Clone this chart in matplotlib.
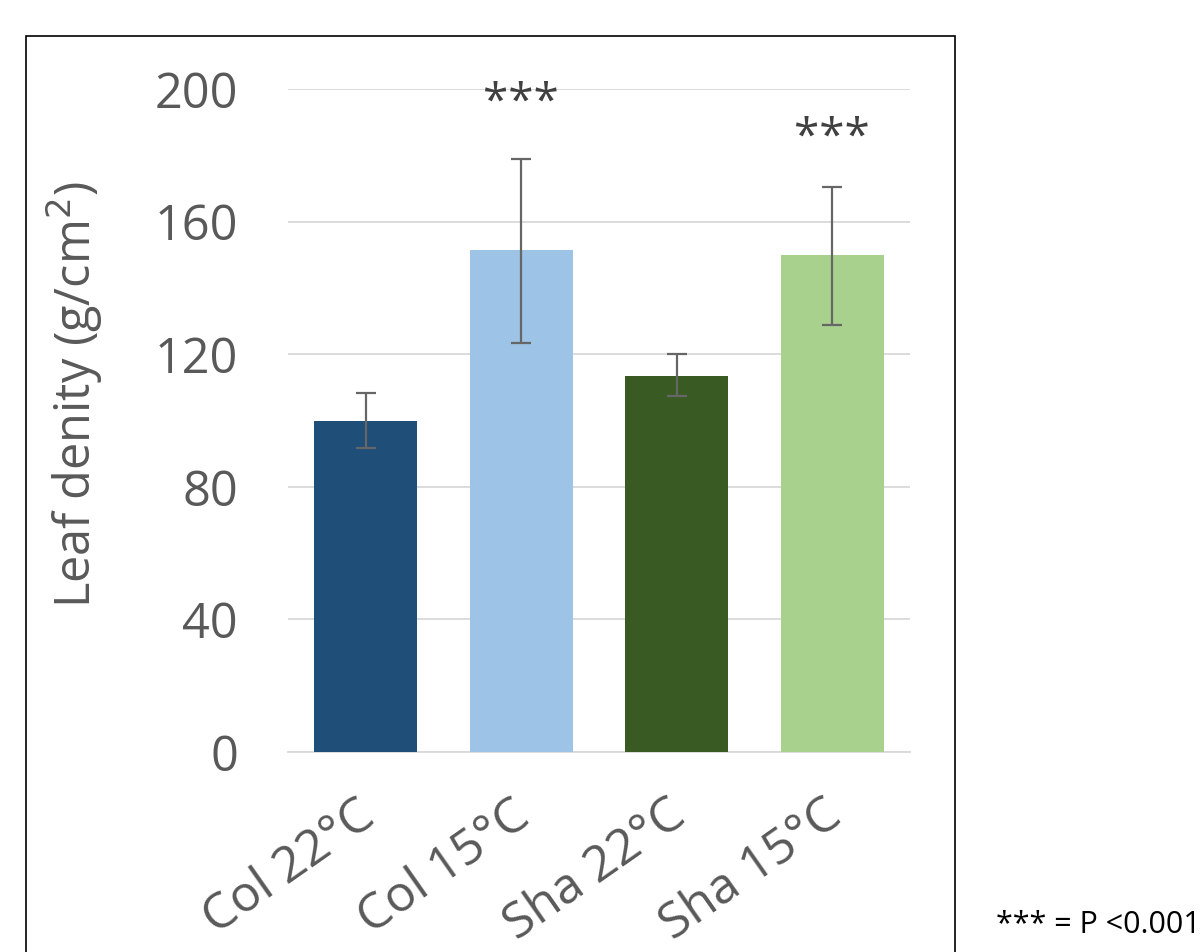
import matplotlib
matplotlib.use("Agg")
import matplotlib.pyplot as plt
import matplotlib.patches as mpatches
import matplotlib.transforms as mtransforms

# values
groups = ["Col 22°C", "Col 15°C", "Sha 22°C", "Sha 15°C"]
density = [100, 151.5, 113.5, 149.8]
err_low = [8.3, 28.0, 6.2, 21.0]
err_high = [8.2, 27.5, 6.5, 20.7]
bar_colors = ["#1F4E79", "#9DC3E6", "#3A5A24", "#A9D18E"]
stars = ["", "***", "", "***"]
star_y = [0, 195.5, 0, 185]
y_ticks = [0, 40, 80, 120, 160, 200]

plt.rcParams['font.family'] = ['Open Sans', 'DejaVu Sans']

fig = plt.figure(figsize=(12.03, 9.52), dpi=100)

# outer frame of the chart box
frame = mpatches.Rectangle((26 / 1203, -0.01), 929 / 1203, 1 - 36 / 952 + 0.01,
                           transform=fig.transFigure, fill=False,
                           ec="black", lw=1.2)
fig.patches.append(frame)

ax = fig.add_axes([288 / 1203, 1 - 752 / 952, 622 / 1203, 663 / 952])

x = list(range(len(groups)))
ax.bar(x, density, width=0.66, color=bar_colors, zorder=3)
ax.errorbar(x, density, yerr=[err_low, err_high], fmt='none',
            ecolor="#666666", elinewidth=1.6, capsize=7, capthick=1.6,
            zorder=4)

for xi, s, sy in zip(x, stars, star_y):
    if s:
        ax.text(xi, sy, s, ha='center', va='center', fontsize=33,
                color="#404040")

ax.set_xlim(-0.5, len(groups) - 0.5)
ax.set_ylim(0, 200)
ax.set_yticks(y_ticks)
ax.set_yticklabels([str(v) for v in y_ticks])
ax.set_xticks(x)
ax.set_xticklabels(groups, rotation=35, ha='right', rotation_mode='anchor')
ax.tick_params(axis='both', length=0, labelsize=35, colors="#595959")
ax.tick_params(axis='y', pad=36)
ax.tick_params(axis='x', pad=28, labelsize=36)
shift = mtransforms.ScaledTranslation(-10 / 100, 0, fig.dpi_scale_trans)
for lbl in ax.get_xticklabels():
    lbl.set_transform(lbl.get_transform() + shift)

ax.grid(axis='y', color="#D9D9D9", lw=1.3, zorder=0)
for side in ['top', 'right', 'left']:
    ax.spines[side].set_visible(False)
ax.spines['bottom'].set_color("#D9D9D9")
ax.spines['bottom'].set_linewidth(1.3)

ax.set_ylabel("Leaf denity (g/cm$^2$)", fontsize=35, color="#595959")
ax.yaxis.set_label_coords((105 - 288) / 622, (752 - 395) / 663)

fig.text(1201 / 1203, 1 - 925 / 952, "*** = P <0.001", fontsize=22,
         color="black", ha='right', va='center')

fig.savefig("out.png", dpi=100)
